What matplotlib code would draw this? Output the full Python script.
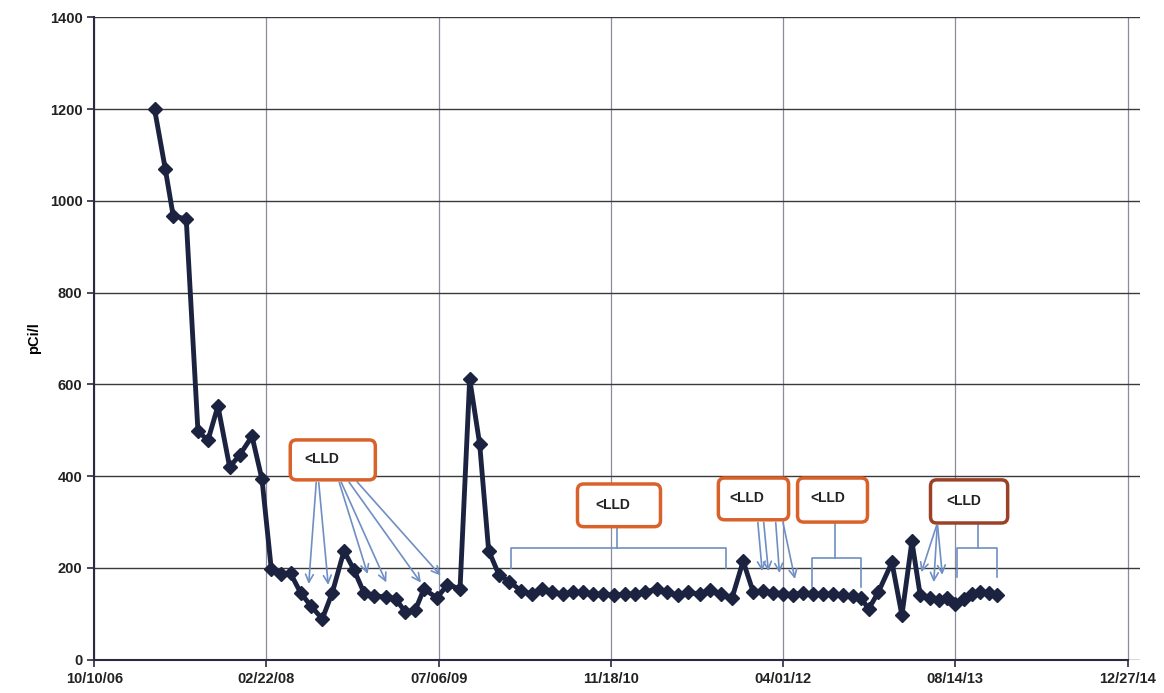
import datetime as dt
import matplotlib
matplotlib.use('Agg')
import matplotlib.pyplot as plt
from matplotlib.patches import FancyBboxPatch

plt.rcParams['font.family'] = ['Liberation Sans', 'DejaVu Sans']

start = dt.date(2006, 10, 10)

# sample day (days after 10/10/06) and activity in pCi/l
days = [175, 206, 229, 267, 301, 330, 359, 393, 422, 458, 487, 514, 542, 570,
        599, 628, 662, 691, 725, 754, 783, 812, 846, 875, 903, 932, 957, 995,
        1025, 1062, 1090, 1119, 1145, 1175, 1205, 1240, 1270, 1300, 1330, 1362,
        1391, 1420, 1449, 1478, 1510, 1541, 1570, 1599, 1633, 1662, 1696, 1725,
        1758, 1788, 1821, 1852, 1884, 1913, 1942, 1971, 2000, 2029, 2058, 2087,
        2116, 2145, 2174, 2203, 2227, 2248, 2277, 2316, 2345, 2374, 2398, 2427,
        2452, 2476, 2500, 2524, 2548, 2573, 2597, 2621]
values = [1200, 1070, 968, 960, 498, 478, 553, 420, 446, 487, 393, 197, 186, 188,
          146, 118, 89, 146, 237, 196, 146, 139, 137, 133, 104, 108, 154, 135,
          163, 155, 612, 470, 238, 185, 170, 150, 143, 155, 147, 143,
          147, 147, 143, 143, 140, 143, 143, 147, 155, 147, 140, 147,
          143, 151, 143, 135, 215, 148, 150, 146, 144, 142, 146, 143,
          143, 143, 140, 138, 135, 110, 148, 212, 97, 258, 141, 135,
          131, 134, 122, 133, 143, 148, 145, 142]

tick_days = [0, 500, 1000, 1500, 2000, 2500, 3000]
tick_labels = [(start + dt.timedelta(days=d)).strftime('%m/%d/%y') for d in tick_days]
y_ticks = [0, 200, 400, 600, 800, 1000, 1200, 1400]

# "<LLD" boxes: (x0, x1, y0, y1, edge colour)
boxes = [(569, 816, 392, 479, '#D9622B'),
         (1403, 1644, 290, 383, '#D9622B'),
         (1812, 2016, 305, 396, '#D9622B'),
         (2042, 2245, 300, 396, '#D9622B'),
         (2428, 2652, 298, 392, '#9A4128')]
label_pos = [(610, 438), (1455, 338), (1845, 352), (2080, 352), (2475, 346)]

# arrows from boxes to points: (tail x, tail y, head x, head y)
arrows = [(645, 392, 622, 159), (651, 392, 680, 157),
          (709, 392, 796, 181), (714, 392, 851, 163),
          (735, 392, 953, 163), (758, 392, 1011, 179),
          (1926, 305, 1940, 187), (1943, 305, 1958, 187),
          (1978, 305, 1990, 183), (1998, 305, 2036, 170),
          (2448, 298, 2399, 185), (2448, 298, 2437, 163),
          (2448, 298, 2463, 179)]

# brackets: (stem x, stem top, bar y, left x, right x, tick bottom)
brackets = [(1519, 290, 244, 1211, 1833, 200),
            (2152, 300, 222, 2085, 2225, 159),
            (2567, 298, 244, 2505, 2622, 181)]

navy = '#1B2340'
blue = '#6F8FC4'

fig = plt.figure(figsize=(11.64, 6.93), dpi=100)
ax = fig.add_axes([0.081, 0.048, 0.898, 0.927])

ax.plot(days, values, color=navy, lw=3.5, marker='D', ms=7.5, mfc=navy, mec=navy, zorder=5)

for b, lp in zip(boxes, label_pos):
    x0, x1, y0, y1, ec = b
    ax.add_patch(FancyBboxPatch((x0, y0), x1 - x0, y1 - y0,
                                boxstyle='round,pad=0,rounding_size=18',
                                mutation_aspect=0.75, fc='white', ec=ec, lw=2.5, zorder=6))
    ax.text(lp[0], lp[1], '<LLD', fontsize=10, fontweight='bold', color='#222222',
            ha='left', va='center', zorder=7)

for tx, ty, hx, hy in arrows:
    ax.annotate('', xy=(hx, hy), xytext=(tx, ty),
                arrowprops=dict(arrowstyle='->', color=blue, lw=1.2, mutation_scale=14),
                zorder=4)

for sx, st, by, lx, rx, tb in brackets:
    ax.plot([sx, sx], [st, by], color=blue, lw=1.2, zorder=4)
    ax.plot([lx, lx, rx, rx], [tb, by, by, tb], color=blue, lw=1.2, zorder=4)

ax.set_xlim(0, 3035)
ax.set_ylim(0, 1400)
ax.set_xticks(tick_days)
ax.set_xticklabels(tick_labels)
ax.set_yticks(y_ticks)
ax.grid(axis='y', color='#3a3a3a', lw=1.0)
ax.grid(axis='x', color='#8a8d9c', lw=0.9)
ax.set_axisbelow(True)
for side in ['top', 'right']:
    ax.spines[side].set_visible(False)
for side in ['left', 'bottom']:
    ax.spines[side].set_color('#2a2a40')
    ax.spines[side].set_linewidth(1.5)
ax.spines['bottom'].set_bounds(0, 3000)
ax.tick_params(axis='both', length=5, width=1.2, color='#2a2a40', labelsize=10.5)
for lab in ax.get_xticklabels() + ax.get_yticklabels():
    lab.set_fontweight('bold')
    lab.set_color('#222222')
ax.set_ylabel('pCi/l', fontsize=10.5, fontweight='bold', labelpad=6)

fig.savefig('out.png', dpi=100)
